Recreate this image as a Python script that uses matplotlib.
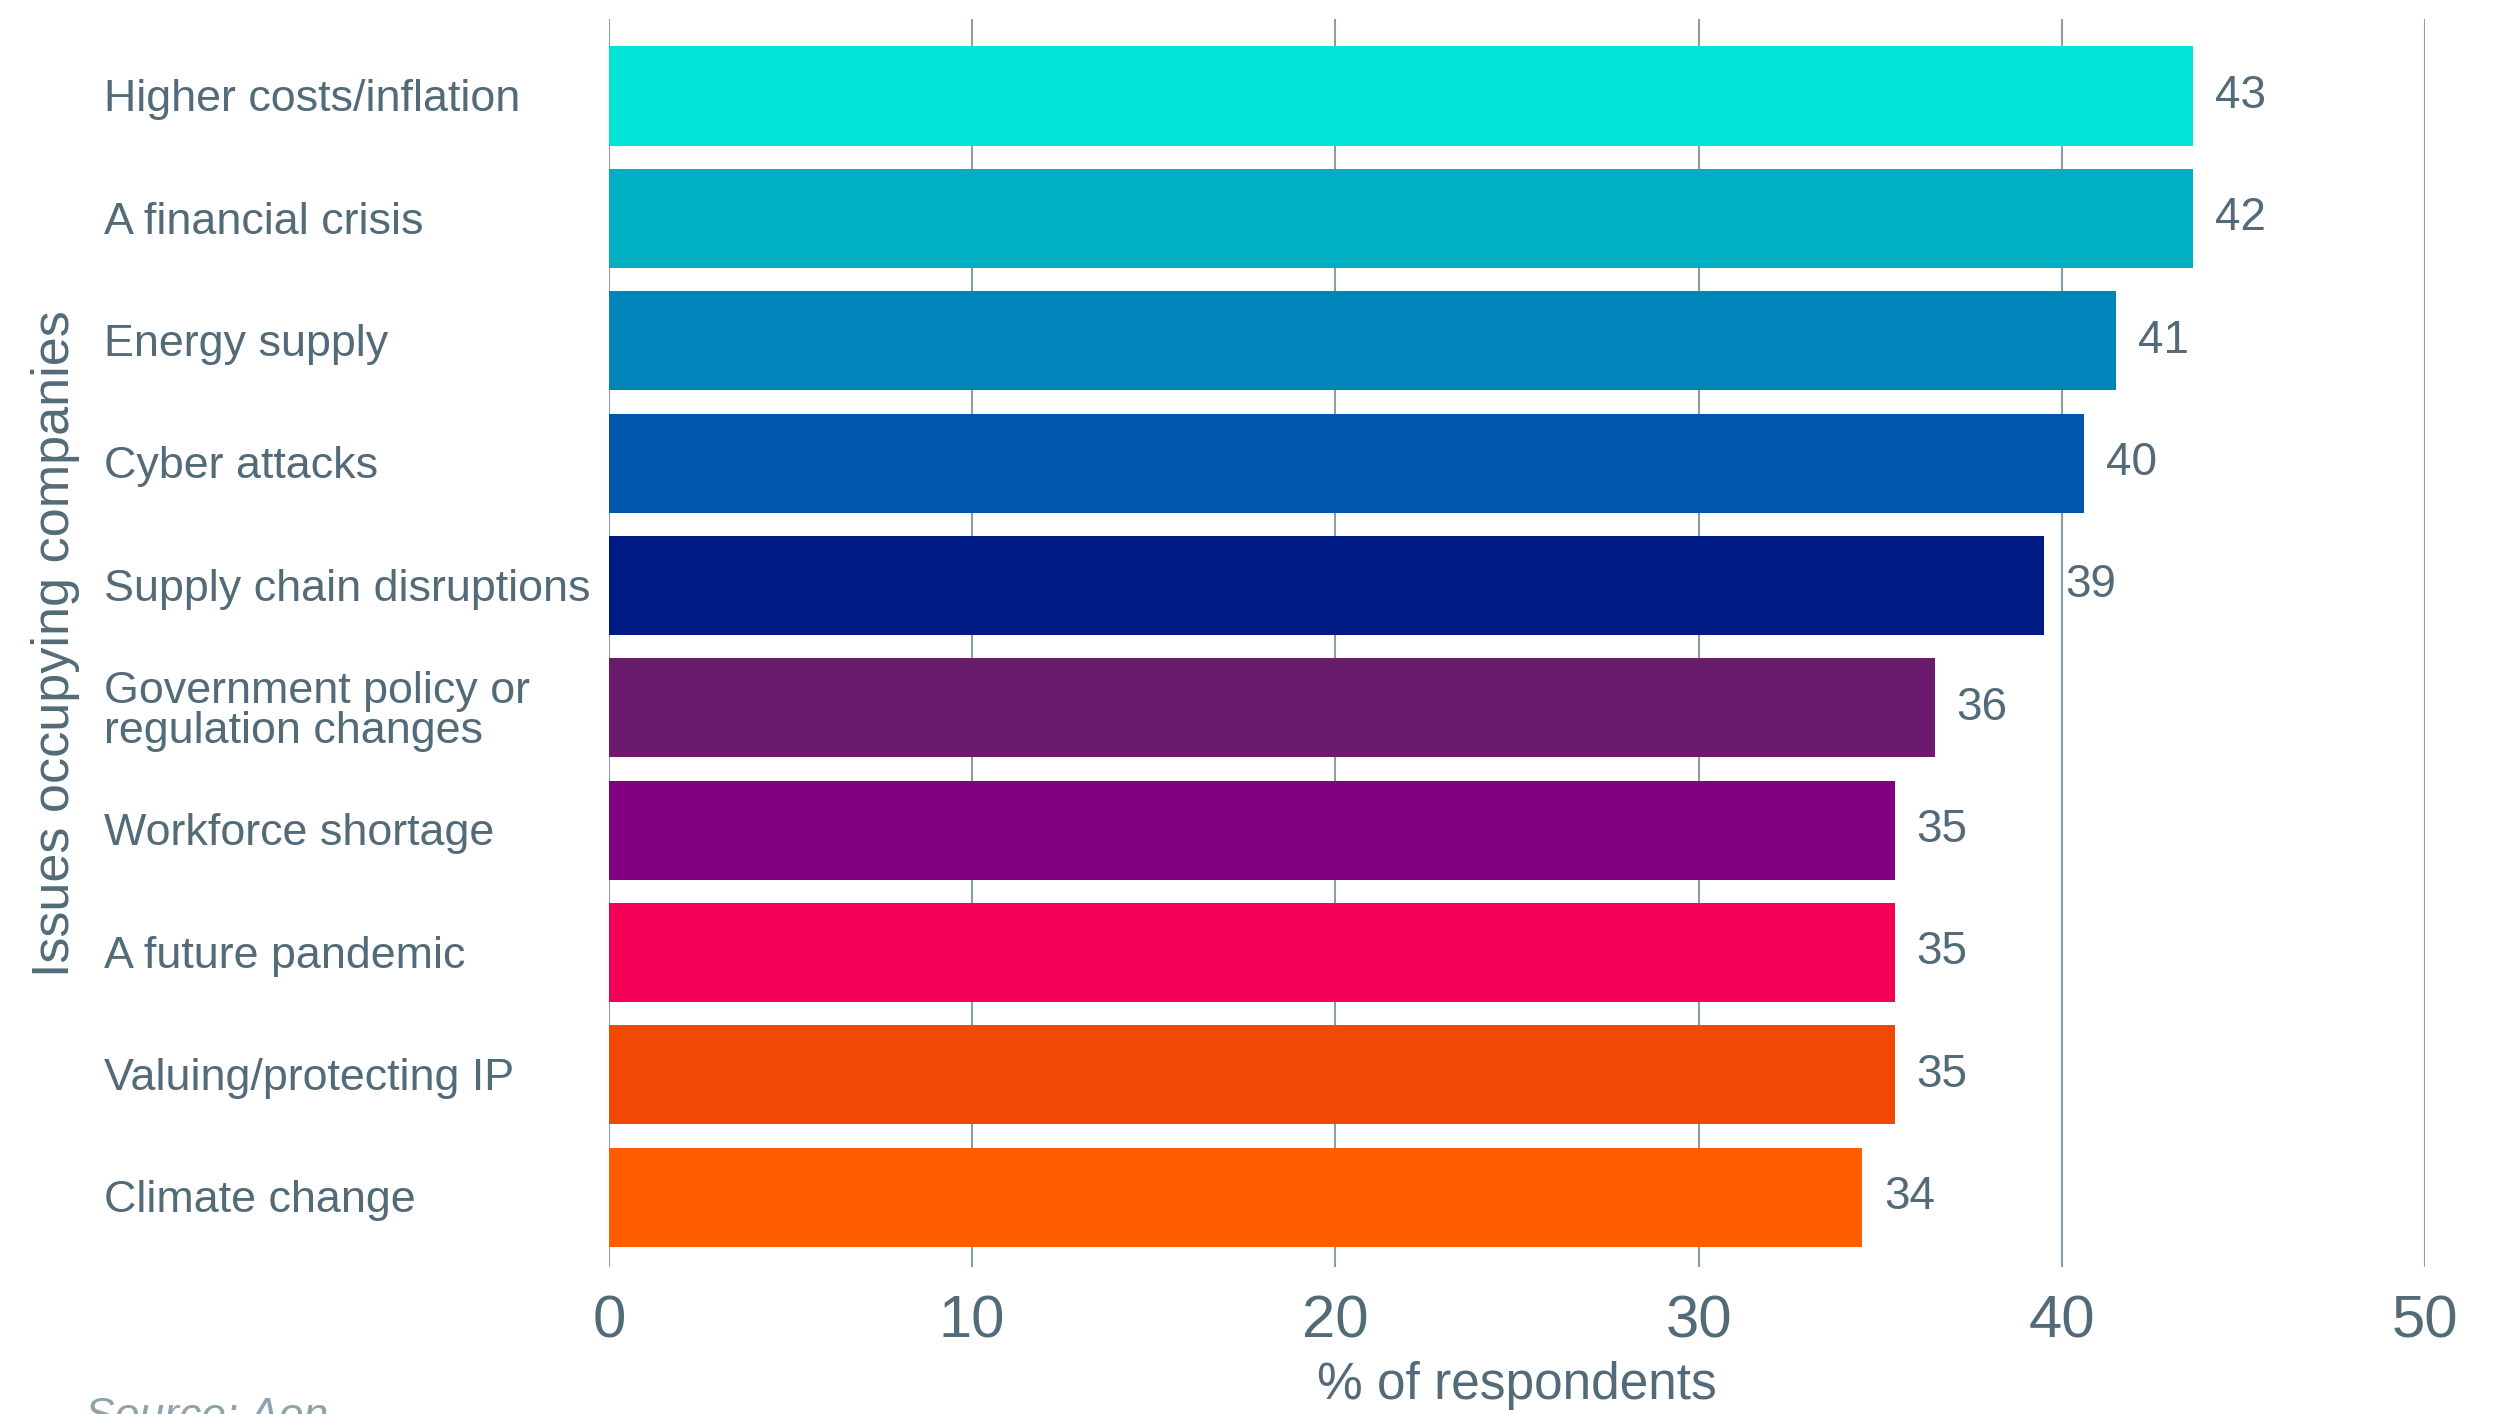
import matplotlib
matplotlib.use("Agg")
import matplotlib.pyplot as plt
from matplotlib.transforms import blended_transform_factory

plt.rcParams['font.family'] = ['Liberation Sans', 'DejaVu Sans']

# data
issues = ["Higher costs/inflation", "A financial crisis", "Energy supply", "Cyber attacks",
          "Supply chain disruptions", "Government policy or\nregulation changes",
          "Workforce shortage", "A future pandemic", "Valuing/protecting IP", "Climate change"]
bar_values = [43.6, 43.6, 41.5, 40.6, 39.5, 36.5, 35.4, 35.4, 35.4, 34.5]
value_labels = ["43", "42", "41", "40", "39", "36", "35", "35", "35", "34"]
bar_colors = ["#02e4d8", "#00afc2", "#0085bb", "#0055ad", "#001a84",
              "#6a1b6d", "#82007f", "#f40057", "#f14903", "#ff5d00"]
xticks = [0, 10, 20, 30, 40, 50]

text_col = "#536b78"
grid_col = "#8b9ea8"

fig = plt.figure(figsize=(25, 14.14), dpi=100)
ax = fig.add_axes([0.2436, 0.104, 0.7264, 0.8826])

ypos = list(range(len(issues)))
ax.barh(ypos, bar_values, height=0.81, color=bar_colors, zorder=3)

ax.set_xlim(0, 50)
ax.set_ylim(len(issues) - 1 + 0.57, -0.63)
ax.set_xticks(xticks)
ax.set_xticklabels([str(t) for t in xticks])
ax.tick_params(axis='x', length=0, pad=20, labelsize=43, labelcolor=text_col)
ax.set_yticks([])
ax.grid(axis='x', color=grid_col, linewidth=1.5, zorder=0)
for s in ax.spines.values():
    s.set_visible(False)

ax.set_xlabel("% of respondents", fontsize=37, color=text_col, labelpad=8)

# category labels, left aligned
trans = blended_transform_factory(fig.transFigure, ax.transData)
for y, name in zip(ypos, issues):
    ax.text(0.0415, y + 0.03, name, transform=trans, ha='left', va='center',
            fontsize=32.3, color=text_col, linespacing=0.95)

# value labels
for y, v, lab in zip(ypos, bar_values, value_labels):
    ax.annotate(lab, xy=(v, y), xytext=(22, 0), textcoords='offset pixels',
                ha='left', va='center', fontsize=33, color=text_col)

fig.text(0.0224, 0.5445, "Issues occupying companies", rotation=90, ha='center', va='center',
         fontsize=37.5, color=text_col)

fig.text(0.034, 0.012, "Source: Aon", ha='left', va='top', fontsize=32,
         style='italic', color="#8fa3ad")

fig.savefig("out.png", dpi=100)
